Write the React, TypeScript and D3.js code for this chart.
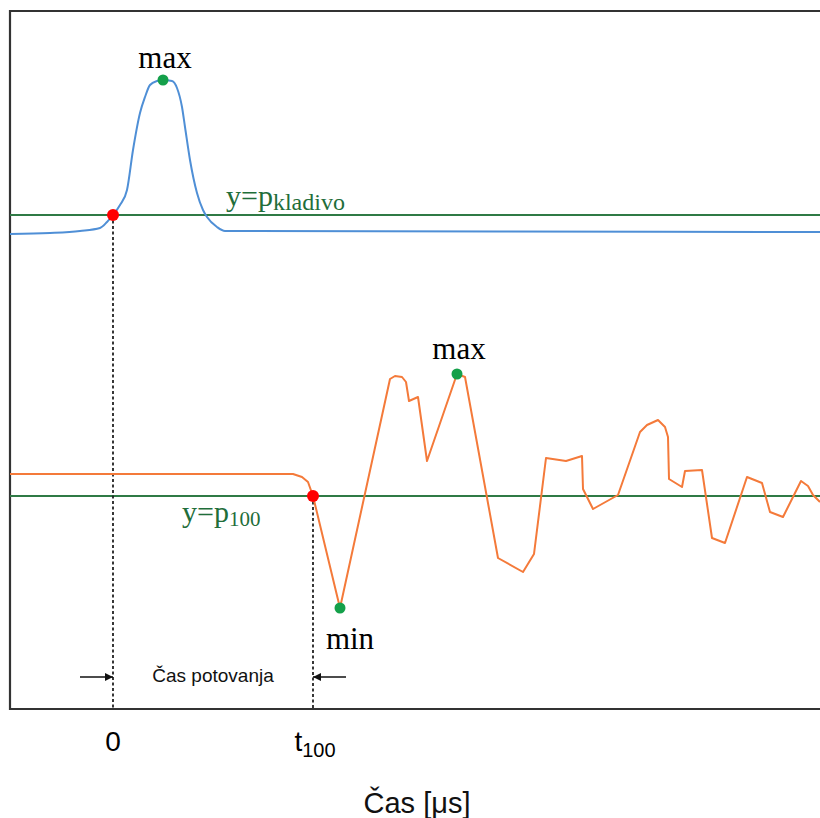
import React from "react";
import * as d3 from "d3";

// Time axis in μs (t = 0 where the hammer pulse crosses p_kladivo, t100 where the 100 m sensor crosses p100)
const T100 = 20;

// Hammer (kladivo) pressure trace: [time, pressure]
const hammerT = [-10.3, -6.3, -3.3, -1.3, -0.6, 0, 0.7, 1.4, 2.0, 2.7, 3.2, 3.7, 4.4, 5.0, 5.9, 6.4, 6.9, 7.2, 7.7, 8.4, 9.0, 9.4, 10.4, 11.2, 38.7, 70.7];
const hammerP = [475, 476, 478, 481, 487, 494, 504, 519, 559, 596, 612, 624, 628, 629, 628, 621, 602, 582, 549, 516, 499, 492, 482, 478, 477.5, 477];

// Sensor at 100 pressure trace: [time, pressure]
const sensorT = [-10.3, 18.0, 18.9, 19.5, 20, 22.7, 27.7, 28.2, 28.9, 29.3, 29.6, 30.5, 31.4, 34.4, 35.2, 38.5, 41.0, 42.1, 43.3, 45.3, 46.9, 47.0, 48.0, 50.5, 52.7, 53.4, 54.5, 55.2, 55.5, 55.6, 56.9, 57.2, 58.9, 59.9, 61.2, 63.4, 64.9, 65.7, 67.0, 68.8, 69.5, 70.0, 70.7];
const sensorP = [235, 235, 232, 227, 213, 101, 330, 333, 332, 327, 308, 312, 248, 335, 332, 151, 137, 155, 251, 248, 253, 220, 200, 214, 277, 284, 289, 282, 272, 230, 222, 238, 239, 171, 166, 232, 226, 197, 192, 228, 223, 214, 207];

// Threshold levels
const pKladivo = 494;
const p100 = 213;

// Tick labels on the time axis
const tickValues = [0, T100];
const tickMain = ["0", "t"];
const tickSub = ["", "100"];

const W = 820;
const H = 818;
const left = 10;
const top = 11;
const bottom = 709;
const right = 820;

const x = d3.scaleLinear().domain([-10.3, 70.7]).range([left, right]);
const y = d3.scaleLinear().domain([0, 698]).range([bottom, top]);

const hammer: [number, number][] = hammerT.map((t, i) => [t, hammerP[i]]);
const sensor: [number, number][] = sensorT.map((t, i) => [t, sensorP[i]]);

const smoothLine = d3
  .line<[number, number]>()
  .x((d) => x(d[0]))
  .y((d) => y(d[1]))
  .curve(d3.curveMonotoneX);

const straightLine = d3
  .line<[number, number]>()
  .x((d) => x(d[0]))
  .y((d) => y(d[1]));

const hammerMax = hammer.reduce((a, b) => (b[1] > a[1] ? b : a));
const sensorMax = sensor.reduce((a, b) => (b[1] > a[1] ? b : a));
const sensorMin = sensor.reduce((a, b) => (b[1] < a[1] ? b : a));

const BLUE = "#4f8fd6";
const ORANGE = "#f47a3a";
const GREEN_LINE = "#2f7a45";
const GREEN_TEXT = "#1f6e3a";
const GREEN_DOT = "#14a04a";
const RED = "#ff0000";
const SERIF = "'Liberation Serif', 'Times New Roman', serif";
const SANS = "'Liberation Sans', Arial, sans-serif";

export default function App() {
  const arrowY = 677;
  return (
    <svg
      width={W}
      height={H}
      style={{ position: "absolute", left: 0, top: 0, background: "#fff" }}
    >
      <defs>
        <marker id="arrowHead" viewBox="0 0 10 10" refX="10" refY="5" markerWidth="14" markerHeight="8" markerUnits="userSpaceOnUse" orient="auto">
          <path d="M0,0 L10,5 L0,10 Z" fill="#111" />
        </marker>
      </defs>

      {/* frame */}
      <path
        d={`M${right},${top} H${left} V${bottom} H${right}`}
        fill="none"
        stroke="#333"
        strokeWidth={2.2}
      />

      {/* threshold lines */}
      <line x1={left} x2={right} y1={y(pKladivo)} y2={y(pKladivo)} stroke={GREEN_LINE} strokeWidth={1.8} />
      <line x1={left} x2={right} y1={y(p100)} y2={y(p100)} stroke={GREEN_LINE} strokeWidth={1.8} />

      {/* dotted guides down to the time axis */}
      <line x1={x(0)} x2={x(0)} y1={y(pKladivo)} y2={bottom} stroke="#222" strokeWidth={1.8} strokeDasharray="3 2.5" />
      <line x1={x(T100)} x2={x(T100)} y1={y(p100)} y2={bottom} stroke="#222" strokeWidth={1.8} strokeDasharray="3 2.5" />

      {/* traces */}
      <path d={smoothLine(hammer) || ""} fill="none" stroke={BLUE} strokeWidth={2} />
      <path d={straightLine(sensor) || ""} fill="none" stroke={ORANGE} strokeWidth={2} strokeLinejoin="round" />

      {/* crossing points */}
      <circle cx={x(0)} cy={y(pKladivo)} r={6} fill={RED} />
      <circle cx={x(T100)} cy={y(p100)} r={6} fill={RED} />

      {/* extrema */}
      <circle cx={x(hammerMax[0])} cy={y(hammerMax[1])} r={5.5} fill={GREEN_DOT} />
      <circle cx={x(sensorMax[0])} cy={y(sensorMax[1])} r={5.5} fill={GREEN_DOT} />
      <circle cx={x(sensorMin[0])} cy={y(sensorMin[1])} r={5.5} fill={GREEN_DOT} />

      <text x={x(hammerMax[0]) + 2} y={y(hammerMax[1]) - 12} fontFamily={SERIF} fontSize={31} textAnchor="middle" fill="#000">max</text>
      <text x={x(sensorMax[0]) + 2} y={y(sensorMax[1]) - 15} fontFamily={SERIF} fontSize={31} textAnchor="middle" fill="#000">max</text>
      <text x={x(sensorMin[0]) + 10} y={y(sensorMin[1]) + 41} fontFamily={SERIF} fontSize={31} textAnchor="middle" fill="#000">min</text>

      {/* threshold labels */}
      <text x={226} y={y(pKladivo) - 9} fontFamily={SERIF} fontSize={30} fill={GREEN_TEXT}>
        y=p<tspan fontSize={24} dy={4}>kladivo</tspan>
      </text>
      <text x={182} y={y(p100) + 26} fontFamily={SERIF} fontSize={30} fill={GREEN_TEXT}>
        y=p<tspan fontSize={21} dy={4}>100</tspan>
      </text>

      {/* travel time annotation */}
      <line x1={x(0) - 33} x2={x(0)} y1={arrowY} y2={arrowY} stroke="#111" strokeWidth={1.5} markerEnd="url(#arrowHead)" />
      <line x1={x(T100) + 33} x2={x(T100)} y1={arrowY} y2={arrowY} stroke="#111" strokeWidth={1.5} markerEnd="url(#arrowHead)" />
      <text x={(x(0) + x(T100)) / 2} y={682} fontFamily={SANS} fontSize={19} textAnchor="middle" fill="#111">Čas potovanja</text>

      {/* time axis tick labels */}
      {tickValues.map((t, i) => (
        <text key={i} x={x(t) + (tickSub[i] ? 2 : 0)} y={751} fontFamily={SANS} fontSize={28} textAnchor="middle" fill="#000">
          {tickMain[i]}
          {tickSub[i] ? <tspan fontSize={20} dy={6}>{tickSub[i]}</tspan> : null}
        </text>
      ))}

      {/* axis title */}
      <text x={417} y={813} fontFamily={SANS} fontSize={29} textAnchor="middle" fill="#111">Čas [μs]</text>
    </svg>
  );
}
